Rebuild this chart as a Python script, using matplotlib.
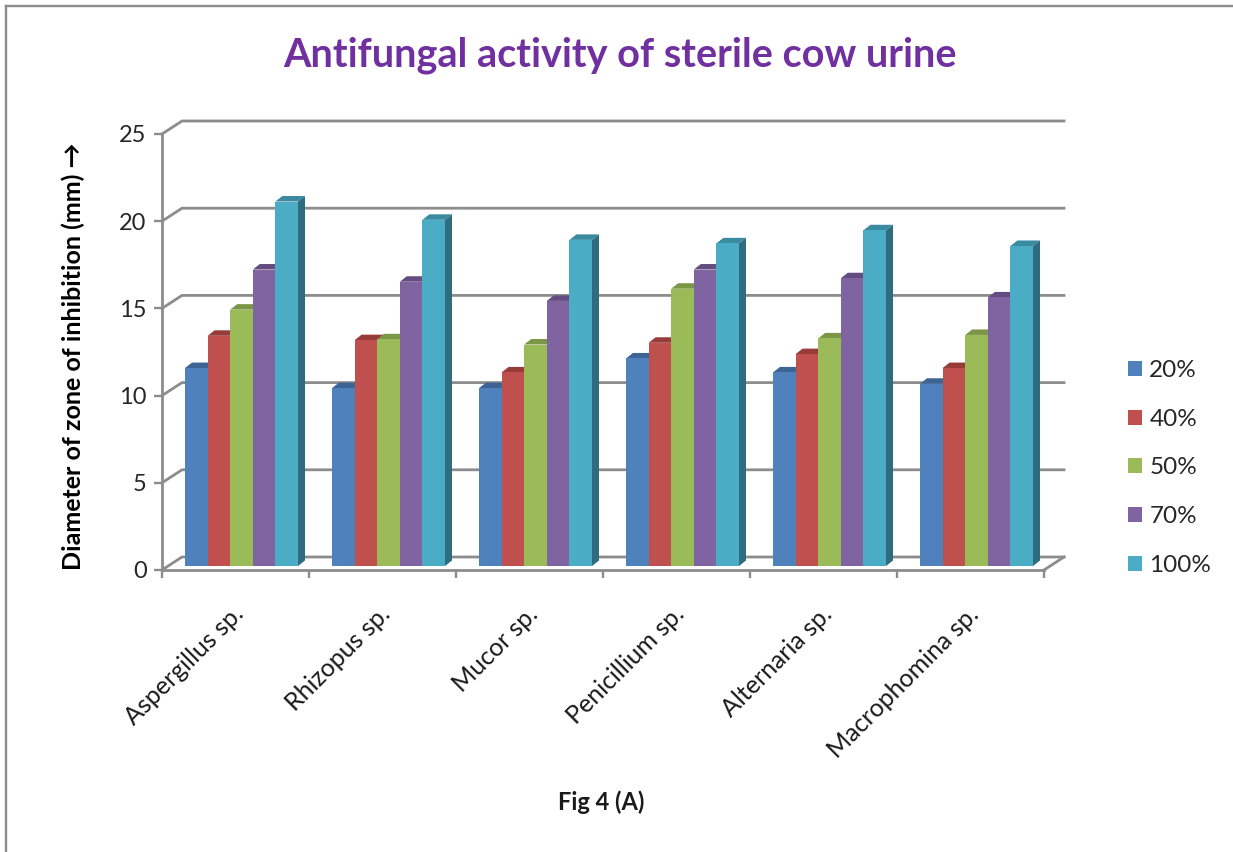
import matplotlib
matplotlib.use("Agg")
import matplotlib.pyplot as plt
from matplotlib.lines import Line2D
from matplotlib.patches import Polygon

plt.rcParams['font.family'] = ['Lato', 'DejaVu Sans']

# values
fungi = ["Aspergillus sp.", "Rhizopus sp.", "Mucor sp.", "Penicillium sp.", "Alternaria sp.", "Macrophomina sp."]
conc_20 = [11.35, 10.2, 10.2, 11.9, 11.1, 10.45]
conc_40 = [13.2, 12.95, 11.1, 12.8, 12.15, 11.35]
conc_50 = [14.7, 13.0, 12.7, 15.9, 13.05, 13.25]
conc_70 = [17.0, 16.3, 15.2, 17.0, 16.5, 15.4]
conc_100 = [20.9, 19.85, 18.7, 18.5, 19.25, 18.35]
series = [conc_20, conc_40, conc_50, conc_70, conc_100]
labels = ["20%", "40%", "50%", "70%", "100%"]
front_cols = ["#4F81BD", "#C0504D", "#9BBB59", "#8064A2", "#4BACC6"]
top_cols = ["#3C6596", "#983C3A", "#7B9646", "#634D80", "#3A8AA0"]
side_col = "#2F6C80"
y_ticks = [0, 5, 10, 15, 20, 25]

W, H = 1233, 852
fig = plt.figure(figsize=(W / 100, H / 100), dpi=100)
L, R, T, B = 162, 1044, 134, 570
ax = fig.add_axes([L / W, 1 - B / H, (R - L) / W, (B - T) / H])
ax.set_xlim(0, len(fungi))
ax.set_ylim(0, 25)

# pixel sizes of the fake 3d, turned into data units
px_x = len(fungi) / (R - L)
px_y = 25 / (B - T)
wall_dx, wall_dy = 20 * px_x, 13 * px_y
base_dx, base_dy = 3 * px_x, 4 * px_y
bar_dx, bar_dy = 7 * px_x, 5.5 * px_y
bar_w = 22.6 * px_x
grey = "#8C8C8C"

# back wall gridlines and the slanted bits
for v in y_ticks:
    ax.plot([0, wall_dx, len(fungi) + wall_dx], [v, v + wall_dy, v + wall_dy],
            color=grey, lw=2, clip_on=False, zorder=1, solid_joinstyle="miter")
# floor front edge to the right side
ax.plot([len(fungi), len(fungi) + wall_dx], [0, wall_dy], color=grey, lw=2, clip_on=False, zorder=1)

for i in range(len(fungi)):
    for j, vals in enumerate(series):
        x0 = i + base_dx + 20 * px_x + j * bar_w
        v = vals[i]
        ax.bar(x0, v, width=bar_w, bottom=base_dy, align="edge", color=front_cols[j],
               linewidth=0, zorder=3 + i)
        y1 = base_dy + v
        ax.add_patch(Polygon([(x0, y1), (x0 + bar_w, y1), (x0 + bar_w + bar_dx, y1 + bar_dy),
                              (x0 + bar_dx, y1 + bar_dy)], closed=True, color=top_cols[j],
                             linewidth=0, zorder=2.5 + i))
        if j == len(series) - 1:
            ax.add_patch(Polygon([(x0 + bar_w, base_dy), (x0 + bar_w + bar_dx, base_dy + bar_dy),
                                  (x0 + bar_w + bar_dx, y1 + bar_dy), (x0 + bar_w, y1)],
                                 closed=True, color=side_col, linewidth=0, zorder=3 + i))

for s in ["top", "right"]:
    ax.spines[s].set_visible(False)
for s in ["left", "bottom"]:
    ax.spines[s].set_color(grey)
    ax.spines[s].set_linewidth(2)
    ax.spines[s].set_zorder(20)

ax.set_yticks(y_ticks)
ax.set_xticks(range(len(fungi) + 1))
ax.set_xticklabels([])
ax.tick_params(axis="both", length=6, width=1.7, color=grey, labelsize=17, labelcolor="#262626")
ax.tick_params(axis="y", pad=5)

for i, name in enumerate(fungi):
    ax.annotate(name, xy=(i + 0.53, 0), xytext=(0, -29), textcoords="offset points",
                rotation=45, rotation_mode="anchor", ha="right", va="center",
                fontsize=18, color="#1A1A1A", annotation_clip=False)

fig.text(620 / W, 1 - 55 / H, "Antifungal activity of sterile cow urine", color="#7030A0",
         fontsize=28.5, fontweight="bold", ha="center", va="center")
fig.text(73 / W, 1 - 356 / H, "Diameter of zone of inhibition (mm) →", rotation=90,
         fontsize=18, fontweight="bold", ha="center", va="center", color="black")
fig.text(601 / W, 1 - 802 / H, "Fig 4 (A)", fontsize=17, fontweight="bold",
         ha="center", va="center", color="#1A1A1A")

handles = [plt.Rectangle((0, 0), 1, 1, color=c, linewidth=0) for c in front_cols]
fig.legend(handles, labels, loc="center left", bbox_to_anchor=(1106 / W, 1 - 468 / H), frameon=False,
           fontsize=17.5, handlelength=0.58, handleheight=0.58, handletextpad=0.3,
           labelspacing=1.14, labelcolor="#262626")

# grey frame of the pasted picture, top and left only
fig.add_artist(Line2D([6 / W, 6 / W], [0, 1 - 6 / H], color="#8C8C8C", lw=1.7))
fig.add_artist(Line2D([6 / W, 1], [1 - 6 / H, 1 - 6 / H], color="#8C8C8C", lw=1.7))

fig.savefig("out.png", dpi=100)
